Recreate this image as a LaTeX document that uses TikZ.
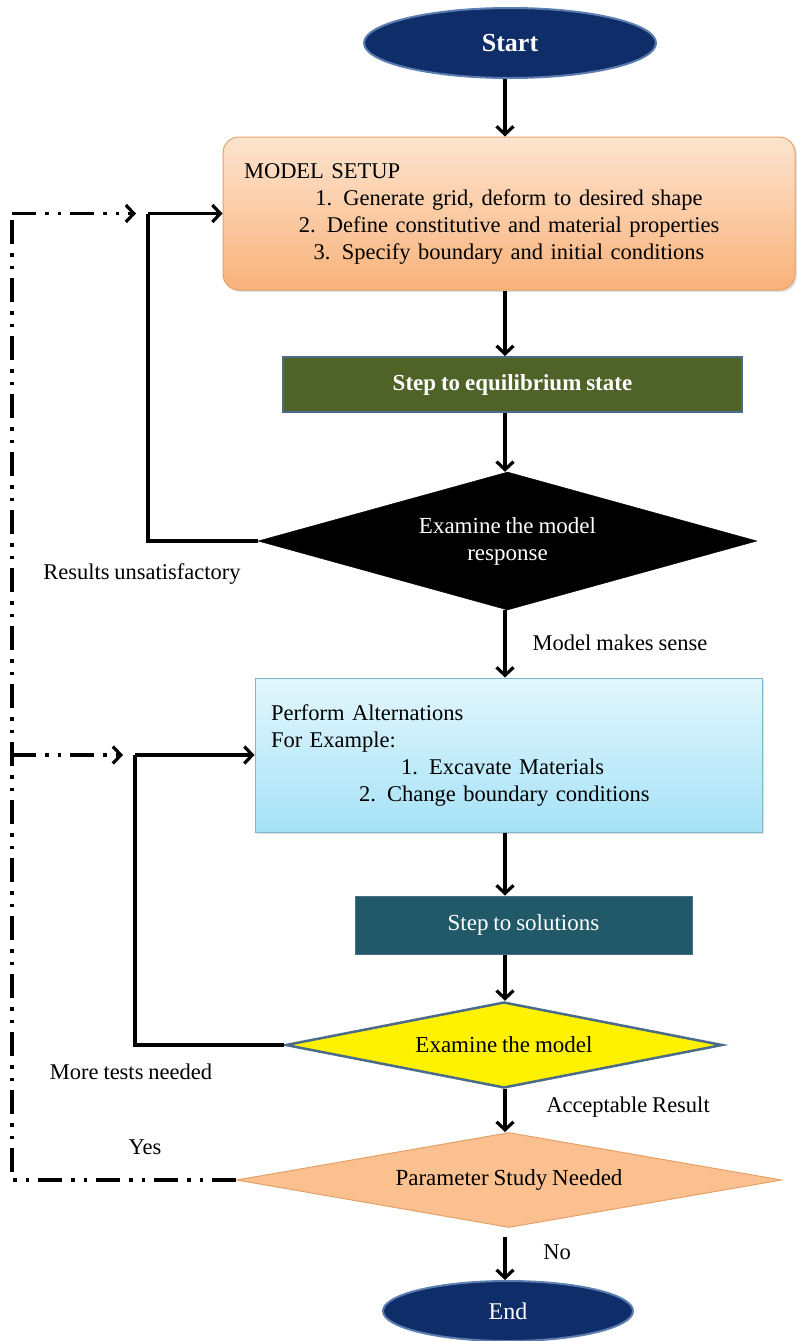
\documentclass[tikz,border=0pt]{standalone}
\usepackage{fontspec}
\setmainfont[WordSpace=0.85]{Liberation Serif}
\usetikzlibrary{arrows.meta,shapes.geometric,shadows}
\definecolor{navy}{HTML}{0F2D69}
\definecolor{navyedge}{HTML}{5C7DB0}
\definecolor{olive}{HTML}{4F6228}
\definecolor{teal2}{HTML}{215968}
\definecolor{edgeblue}{HTML}{4A6B8A}
\definecolor{peach}{HTML}{FAC090}
\definecolor{peachedge}{HTML}{E6A165}
\definecolor{setuptop}{HTML}{FCE4CF}
\definecolor{setupbot}{HTML}{F9B27A}
\definecolor{cyantop}{HTML}{E3F7FD}
\definecolor{cyanbot}{HTML}{A6E2F7}
\definecolor{cyanedge}{HTML}{7FB7CF}
\tikzset{
  txt/.style={font=\fontsize{22.5}{27}\selectfont},
  term/.style={ellipse, fill=navy, draw=navyedge, line width=2pt, text=white, inner sep=0pt},
  tip/.style={-{Straight Barb[length=8pt,width=17pt,line width=3.2pt]}},
  arr/.style={line width=3.5pt, tip},
  ln/.style={line width=3.5pt},
  dd/.style={line width=3.5pt, dash pattern=on 24pt off 9pt on 3.5pt off 9pt on 3.5pt off 9pt},
  ddarr/.style={dd, tip},
  shad/.style={drop shadow={opacity=0.25, shadow xshift=2pt, shadow yshift=-2pt}},
  lbl/.style={txt, inner sep=0pt}
}
\begin{document}
\begin{tikzpicture}[x=1pt,y=-1pt]
\useasboundingbox (0,0) rectangle (797,1341);
\coordinate (ax) at (505,0);

\node[term, minimum width=292pt, minimum height=70pt, font=\fontsize{26}{30}\selectfont\bfseries] (start) at (510,43) {Start};

\node[txt, shad, rounded corners=16pt, draw=peachedge, line width=1pt, top color=setuptop, bottom color=setupbot,
  minimum width=572pt, minimum height=153pt, text width=530pt, align=center, inner sep=0pt] (setup) at (509,213.5)
  {\makebox[\linewidth][l]{MODEL SETUP}\\
   1. Generate grid, deform to desired shape\\
   2. Define constitutive and material properties\\
   3. Specify boundary and initial conditions};

\node[fill=olive, draw=edgeblue, line width=2pt, text=white, minimum width=459pt, minimum height=55pt,
  font=\fontsize{23}{27}\selectfont\bfseries, inner sep=0pt] (equil) at (512.5,384.5) {Step to equilibrium state};

\node[diamond, aspect=3.62, fill=black, draw=black, text=white, minimum width=499pt, minimum height=138pt, inner sep=0pt,
  align=center, font=\fontsize{23}{27}\selectfont] (exam1) at (507.5,541) {Examine the model\\response};

\node[txt, shad, draw=cyanedge, line width=1pt, top color=cyantop, bottom color=cyanbot,
  minimum width=507pt, minimum height=154pt, text width=475pt, align=left, inner sep=0pt] (alter) at (508.5,755)
  {Perform Alternations\\
   For Example:\\
   \hspace*{130pt}1. Excavate Materials\\
   \hspace*{88pt}2. Change boundary conditions};

\node[fill=teal2, draw=edgeblue, line width=1pt, text=white, minimum width=337pt, minimum height=58pt,
  font=\fontsize{23}{27}\selectfont, inner sep=0pt] (sol) at (523.5,925) {Step to solutions};

\node[diamond, aspect=5.08, fill=yellow, draw=edgeblue, line width=2.5pt, minimum width=437pt, minimum height=86pt, inner sep=0pt,
  font=\fontsize{23}{27}\selectfont] (exam2) at (504,1045) {Examine the model};

\node[diamond, aspect=5.74, fill=peach, draw=peachedge, line width=1pt, minimum width=545pt, minimum height=95pt, inner sep=0pt,
  font=\fontsize{23}{27}\selectfont] (param) at (509,1180) {Parameter Study Needed};

\node[term, minimum width=250pt, minimum height=60pt, font=\fontsize{24}{28}\selectfont] (end) at (508,1311) {End};

% main flow
\draw[arr] (ax |- start.south) -- (ax |- setup.north);
\draw[arr] (ax |- setup.south) -- (ax |- equil.north);
\draw[arr] (ax |- equil.south) -- (ax |- exam1.north);
\draw[arr] (ax |- exam1.south) -- (ax |- alter.north);
\draw[arr] (ax |- alter.south) -- (ax |- sol.north);
\draw[arr] (ax |- sol.south) -- (ax |- exam2.north);
\draw[arr] (ax |- exam2.south) -- (ax |- param.north);
\draw[arr] ([yshift=-9pt]ax |- param.south) -- (ax |- end.north);

% feedback loops
\coordinate (c1) at (148,541);
\coordinate (c2) at (135,1045);
\draw[ln] (exam1.west) -- (c1) -- (c1 |- setup.west);
\draw[arr] (c1 |- setup.west) -- (setup.west);
\draw[ln] (exam2.west) -- (c2) -- (c2 |- alter.west);
\draw[arr] (c2 |- alter.west) -- (alter.west);

% parameter study loop
\coordinate (d1) at (12,1180);
\coordinate (d2) at (12,213.5);
\coordinate (d3) at (12,755);
\coordinate (t1) at (136,213.5);
\coordinate (t2) at (123,755);
\draw[dd] (param.west) -- (d1) -- (d2);
\draw[ddarr] (d2) -- (t1);
\draw[ddarr] (d3) -- (t2);

% labels
\node[lbl] (l1) at (142,574) {Results unsatisfactory};
\node[lbl] (l2) at (620,643) {Model makes sense};
\node[lbl] (l3) at (131,1072) {More tests needed};
\node[lbl] (l4) at (628,1107) {Acceptable Result};
\node[lbl] (l5) at (145,1147) {Yes};
\node[lbl] (l6) at (557,1252) {No};
\end{tikzpicture}
\end{document}
